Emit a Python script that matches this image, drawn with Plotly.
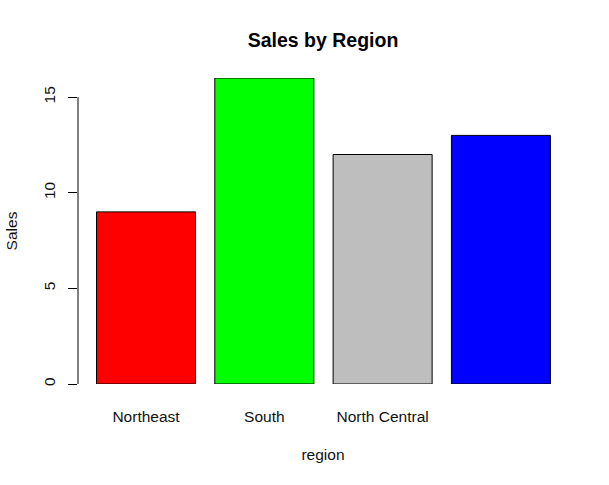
import plotly.graph_objects as go

regions = ["Northeast", "South", "North Central", ""]
sales = [9, 16, 12, 13]
bar_colors = ["#ff0000", "#00ff00", "#bebebe", "#0000ff"]
y_ticks = [0, 5, 10, 15]
positions = list(range(len(regions)))

FONT = "Liberation Sans, Arial, sans-serif"

fig = go.Figure(
    go.Bar(
        x=positions,
        y=sales,
        marker=dict(color=bar_colors, line=dict(color="black", width=1)),
        width=0.837,
        showlegend=False,
    )
)

fig.update_layout(
    width=609,
    height=485,
    autosize=False,
    margin=dict(l=78, r=41, t=78, b=101, pad=0, autoexpand=False),
    paper_bgcolor="white",
    plot_bgcolor="white",
    font=dict(family=FONT, size=15.5, color="#111111"),
    title=dict(
        text="<b>Sales by Region</b>",
        font=dict(family=FONT, size=19.5, color="black"),
        x=323 / 609,
        xanchor="center",
        y=1 - 40 / 485,
        yanchor="middle",
    ),
)

fig.update_xaxes(
    range=[-0.575, 3.567],
    tickmode="array",
    tickvals=positions,
    ticktext=regions,
    showgrid=False,
    zeroline=False,
    showline=False,
    ticks="outside",
    ticklen=18,
    tickcolor="rgba(0,0,0,0)",
    automargin=False,
    title=dict(text="region", standoff=25, font=dict(family=FONT, size=15.5)),
)

fig.update_yaxes(
    range=[0, 16],
    tickmode="array",
    tickvals=y_ticks,
    ticktext=[str(v) for v in y_ticks],
    tickangle=-90,
    ticklabelstandoff=7,
    showgrid=False,
    zeroline=False,
    showline=False,
    ticks="outside",
    ticklen=9,
    tickwidth=1,
    tickcolor="black",
    automargin=False,
    title=dict(text="Sales", standoff=19, font=dict(family=FONT, size=15.5)),
)

fig.add_shape(
    type="line",
    xref="paper",
    yref="y",
    x0=0,
    x1=0,
    y0=y_ticks[0],
    y1=y_ticks[-1],
    line=dict(color="black", width=1),
)

fig.write_html(
    "out.html",
    config={"displayModeBar": False},
    post_script="document.body.style.margin='0';",
)
